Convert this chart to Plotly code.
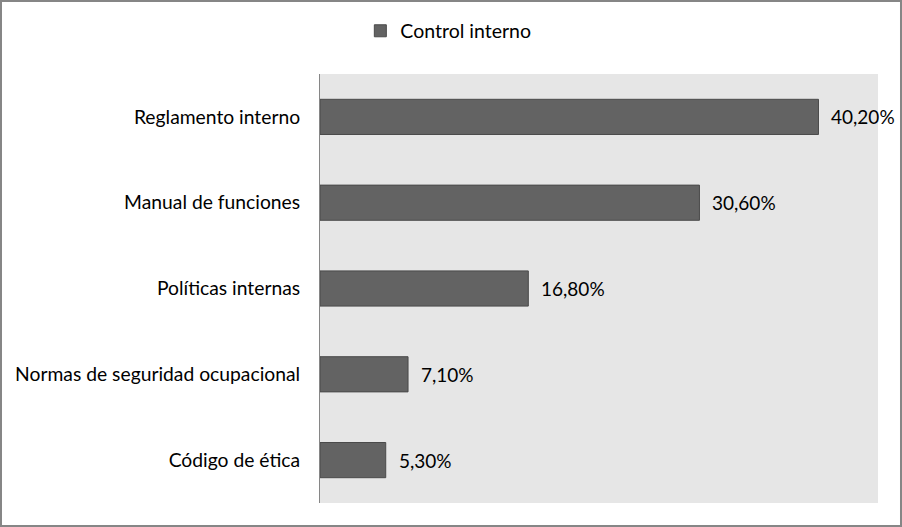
import plotly.graph_objects as go

categorias = ["Reglamento interno", "Manual de funciones", "Políticas internas",
              "Normas de seguridad ocupacional", "Código de ética"]
valores = [40.2, 30.6, 16.8, 7.1, 5.3]
etiquetas = ["40,20%", "30,60%", "16,80%", "7,10%", "5,30%"]

fuente = "Lato"

fig = go.Figure(go.Bar(
    x=valores, y=categorias, orientation="h", name="Control interno",
    marker=dict(color="#636363", line=dict(color="#4a4a4a", width=1)),
    hoverinfo="x+y",
))

for v, c, t in zip(valores, categorias, etiquetas):
    fig.add_annotation(x=v, y=c, text=t, showarrow=False, xanchor="left",
                       xshift=11, font=dict(family=fuente, size=19, color="black"))

# marco exterior del grafico
fig.add_shape(type="rect", xref="paper", yref="paper",
              x0=-0.5717, x1=1.0412, y0=-0.0536, y1=1.1702,
              line=dict(color="#868686", width=2), layer="above")

fig.update_layout(
    width=902, height=527,
    margin=dict(l=320, r=24, t=74, b=24),
    paper_bgcolor="white", plot_bgcolor="#e6e6e6",
    font=dict(family=fuente, size=19, color="black"),
    bargap=0.59,
    showlegend=True,
    legend=dict(orientation="h", x=0.23, xanchor="center", y=1.1, yanchor="middle",
                font=dict(size=19.5)),
    xaxis=dict(range=[0, 45], showticklabels=False, showgrid=False,
               zeroline=False, fixedrange=True),
    yaxis=dict(autorange="reversed", showgrid=False, ticks="",
               showline=True, linecolor="#868686", linewidth=1,
               ticklabelstandoff=15, tickfont=dict(size=19.3)),
)

fig.write_html("out.html", config={"displayModeBar": False},
               post_script="document.body.style.margin='0px';")
